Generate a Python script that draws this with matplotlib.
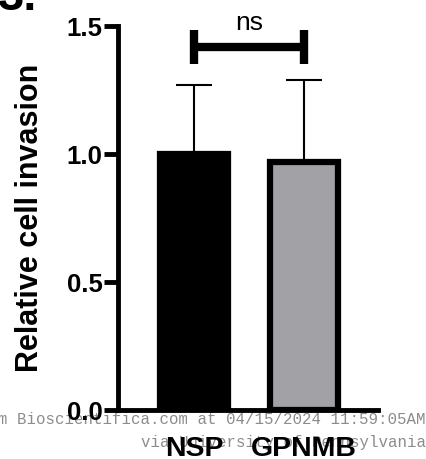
import matplotlib
matplotlib.use('agg')
import matplotlib.pyplot as plt

# data
groups = ['NSP', 'GPNMB']
means = [1.0, 0.97]
sd = [0.27, 0.32]
colors = ['#000000', '#a2a1a6']
sig_label = 'ns'

plt.rcParams['font.family'] = ['Liberation Sans', 'DejaVu Sans']
plt.rcParams['font.weight'] = 'bold'

fig = plt.figure(figsize=(4.26, 4.59), dpi=100)
ax = fig.add_axes([118/426, 1-410/459, (378-118)/426, (410-26)/459])
ax.set_zorder(2)
ax.patch.set_alpha(0)

x = range(len(groups))
ax.bar(x, means, width=0.62, color=colors, edgecolor='black', linewidth=4.5, zorder=2)
ax.errorbar(x, means, yerr=[[0, 0], sd], fmt='none', ecolor='black',
            elinewidth=1.5, capsize=13, capthick=1.5, zorder=1)

ax.set_xlim(-0.69, 1.67)
ax.set_ylim(0, 1.5)
ax.set_yticks([0, 0.5, 1.0, 1.5])
ax.set_yticklabels(['0.0', '0.5', '1.0', '1.5'])
ax.set_xticks(list(x))
ax.set_xticklabels(groups, fontsize=20.5, fontweight='bold')
ax.tick_params(axis='y', labelsize=18.5, width=3.5, length=10, pad=1)
ax.tick_params(axis='x', length=0, pad=19)
for s in ['top', 'right']:
    ax.spines[s].set_visible(False)
for s in ['left', 'bottom']:
    ax.spines[s].set_linewidth(3.5)
ax.set_ylabel('Relative cell invasion', fontsize=22, fontweight='bold', va='center')
ax.yaxis.set_label_coords(-(118-30)/260, 0.5)

# significance bracket
ybar = 1.418
ax.plot([0, 1], [ybar, ybar], color='black', lw=6, clip_on=False, solid_capstyle='butt')
for xi in [0, 1]:
    ax.plot([xi, xi], [ybar - 0.066, ybar + 0.066], color='black', lw=6, clip_on=False,
            solid_capstyle='butt')
ax.text(0.5, 1.484, sig_label, ha='center', va='baseline', fontsize=19, fontweight='normal')

# partial panel letter & watermark
fig.text(-0.005, 1.005, '3.', fontsize=34, fontweight='bold', ha='left', va='center')
fig.text(1.0, 1-419/459, 'm Bioscientifica.com at 04/15/2024 11:59:05AM',
         family='Liberation Mono', fontweight='normal', fontsize=11.3, color='#8c8c8c',
         ha='right', va='center', zorder=0)
fig.text(1.0, 1-442/459, 'via University of Pennsylvania',
         family='Liberation Mono', fontweight='normal', fontsize=11.3, color='#8c8c8c',
         ha='right', va='center', zorder=0)

fig.savefig('out.png', dpi=100)
